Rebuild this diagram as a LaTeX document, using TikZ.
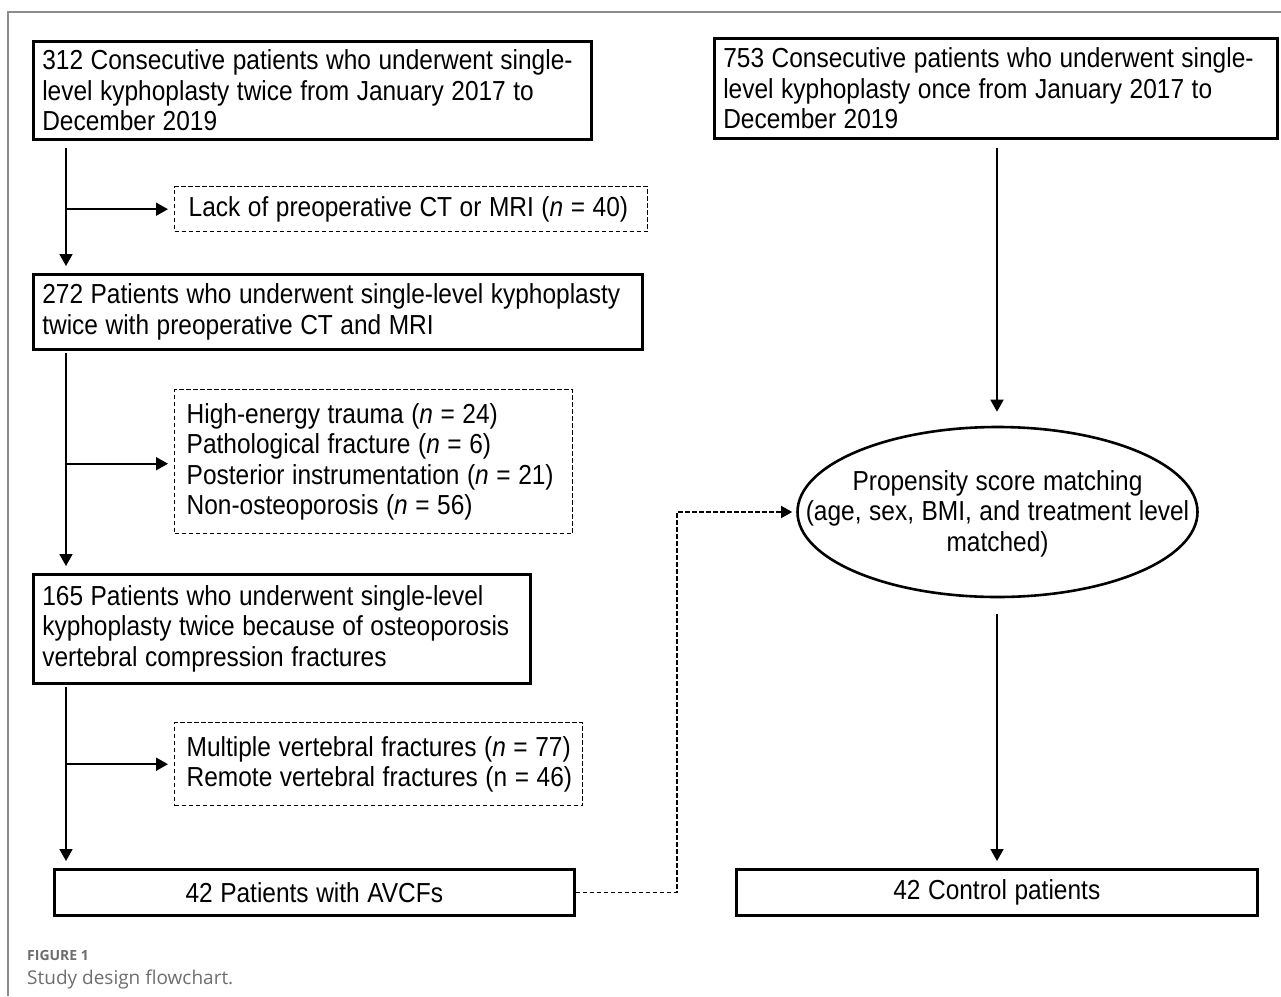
\documentclass[tikz,border=0pt]{standalone}
\usepackage{fontspec}
\setmainfont{Liberation Sans}[FakeStretch=0.89]
\newfontfamily\capfont{Open Sans}
\usetikzlibrary{arrows.meta,shapes.geometric}
\definecolor{framegray}{HTML}{8C8C8C}
\definecolor{capgray}{HTML}{6E6E6E}
\newcommand\narrowspaces{\spaceskip=0.275em\relax}
\tikzset{
  txt/.style={font=\fontsize{27.5pt}{30.5pt}\selectfont, execute at begin node=\narrowspaces},
  solidbox/.style={txt, draw, line width=2.6pt, anchor=north west, align=left, inner xsep=9pt, inner ysep=0pt},
  dashbox/.style={txt, draw, line width=1.4pt, dash pattern=on 4.5pt off 2.5pt, anchor=north west, align=left, inner xsep=12pt, inner ysep=0pt},
  centerbox/.style={txt, draw, line width=2.6pt, anchor=north west, align=center, inner sep=0pt},
  arr/.style={line width=1.8pt, -{Triangle[width=13pt,length=12pt]}},
  dasharr/.style={line width=1.4pt, dash pattern=on 4.5pt off 2.5pt, -{Triangle[width=12pt,length=11pt]}},
}
\begin{document}
\begin{tikzpicture}[x=1pt,y=-1pt]
\useasboundingbox (0,0) rectangle (1281,996);
% frame
\draw[framegray, line width=1.5pt] (8,996) -- (8,12) -- (1281,12);

% left column
\node[solidbox, minimum width=558pt, minimum height=98pt, text width=540pt] (A) at (32,40)
  {\mbox{312 Consecutive patients who underwent single-}\\\mbox{level kyphoplasty twice from January 2017 to}\\\mbox{December 2019}};
\node[dashbox, minimum width=473pt, minimum height=45pt, text width=445pt, inner xsep=14pt] (C) at (174,186)
  {\mbox{Lack of preoperative CT or MRI (\textit{n} = 40)}};
\node[solidbox, minimum width=609pt, minimum height=75pt, text width=591pt] (D) at (32,273)
  {\mbox{272 Patients who underwent single-level kyphoplasty}\\\mbox{twice with preoperative CT and MRI}};
\node[dashbox, minimum width=398pt, minimum height=144pt, text width=374pt] (F) at (174,389)
  {\mbox{High-energy trauma (\textit{n} = 24)}\\\mbox{Pathological fracture (\textit{n} = 6)}\\\mbox{Posterior instrumentation (\textit{n} = 21)}\\\mbox{Non-osteoporosis (\textit{n} = 56)}\\[-12pt]};
\node[solidbox, minimum width=497pt, minimum height=109pt, text width=479pt] (E) at (32,573)
  {\mbox{165 Patients who underwent single-level}\\\mbox{kyphoplasty twice because of osteoporosis}\\\mbox{vertebral compression fractures}};
\node[dashbox, minimum width=408pt, minimum height=83pt, text width=384pt] (H) at (174,722)
  {\mbox{Multiple vertebral fractures (\textit{n} = 77)}\\\mbox{Remote vertebral fractures (n = 46)}};
\node[centerbox, minimum width=520pt, minimum height=46pt] (G) at (53,868)
  {42 Patients with AVCFs};

% right column
\node[solidbox, minimum width=563pt, minimum height=100pt, text width=545pt] (B) at (713,37)
  {\mbox{753 Consecutive patients who underwent single-}\\\mbox{level kyphoplasty once from January 2017 to}\\\mbox{December 2019}};
\node[txt, ellipse, draw, line width=2.6pt, minimum width=400pt, minimum height=170pt, inner sep=0pt] (P) at (997.5,512)
  {\makebox[0pt][c]{\smash{\raisebox{-9pt}{\begin{tabular}{@{}c@{}}Propensity score matching\\(age, sex, BMI, and treatment level\\matched)\end{tabular}}}}};
\node[centerbox, minimum width=521pt, minimum height=46pt] (I) at (735,868)
  {42 Control patients};

% connectors
\coordinate (lx) at (66,0);
\coordinate (rx) at (997,0);
\coordinate (bx) at (677,0);
\draw[arr, shorten <=7pt, shorten >=7pt] (A.south -| lx) -- (D.north -| lx);
\draw[arr, shorten >=6pt] (C.west -| lx) -- (C.west);
\draw[arr, shorten <=2pt, shorten >=7pt] (D.south -| lx) -- (E.north -| lx);
\draw[arr, shorten >=6pt] ([yshift=-2pt]F.west -| lx) -- ([yshift=-2pt]F.west);
\draw[arr, shorten <=2pt, shorten >=7pt] (E.south -| lx) -- (G.north -| lx);
\draw[arr, shorten >=6pt] (H.west -| lx) -- (H.west);
\draw[arr, shorten <=8pt, shorten >=14pt] (B.south -| rx) -- (P.north -| rx);
\draw[arr, shorten <=16pt, shorten >=7pt] (P.south -| rx) -- (I.north -| rx);
\draw[dasharr, shorten >=4pt] (G.east) -| (bx |- P.west) -- (P.west);

% caption
\node[anchor=base west, font=\capfont\bfseries\fontsize{14pt}{16pt}\selectfont, text=capgray, inner sep=0pt] (cap1) at (27,960) {FIGURE 1};
\node[anchor=base west, font=\capfont\fontsize{19pt}{22pt}\selectfont, text=capgray, inner sep=0pt] (cap2) at (27,984) {Study design flowchart.};
\end{tikzpicture}
\end{document}
